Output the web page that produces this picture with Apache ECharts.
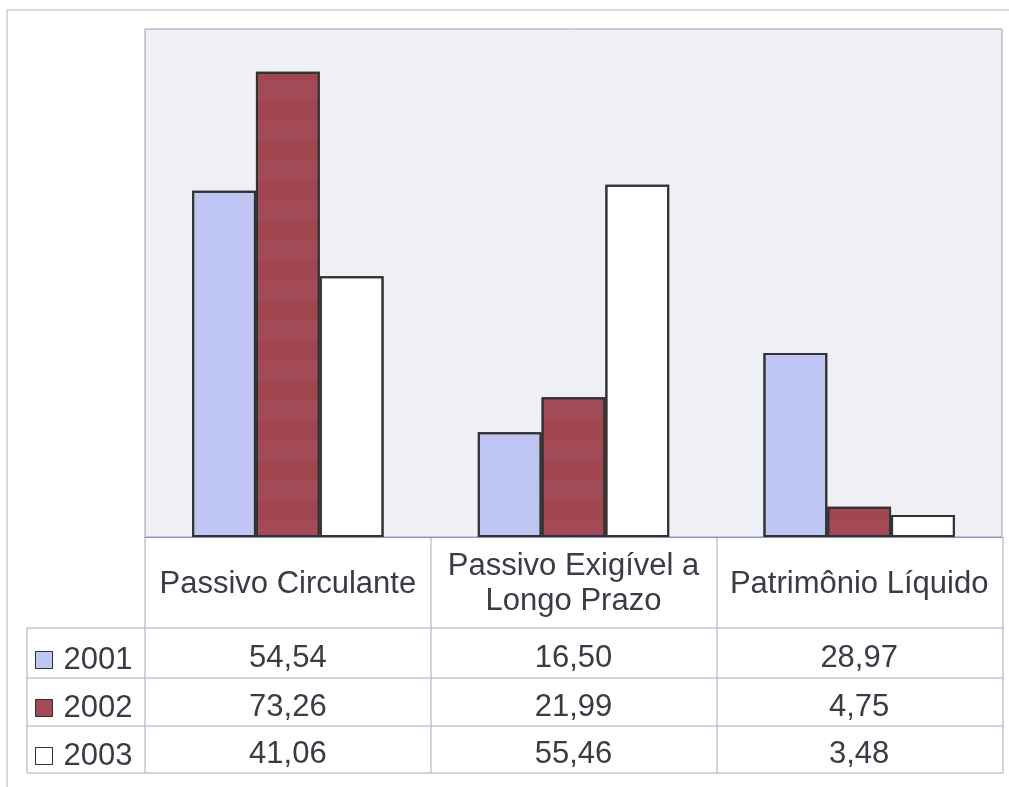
<!DOCTYPE html>
<html>
<head>
<meta charset="utf-8">
<script src="https://cdn.jsdelivr.net/npm/echarts@6/dist/echarts.min.js"></script>
<style>
  html, body { margin: 0; padding: 0; background: #fff; }
  #chart { width: 1009px; height: 787px; }
</style>
</head>
<body>
<div id="chart"></div>
<script>
// dados
const categories = ['Passivo Circulante', 'Passivo Exigível a\nLongo Prazo', 'Patrimônio Líquido']
const years = ['2001', '2002', '2003']
const v2001 = [54.54, 16.50, 28.97]
const v2002 = [73.26, 21.99, 4.75]
const v2003 = [41.06, 55.46, 3.48]

const seriesValues = [v2001, v2002, v2003]
const colors = ['#bfc6f3', '#a0464e', '#ffffff']
const font = 'Liberation Sans, Arial, sans-serif'
const txtColor = '#3a3b45'
const lineColor = '#a3a8c0'

const chart = echarts.init(document.getElementById('chart'))

const fmt = v => v.toFixed(2).replace('.', ',')

const series = years.map((y, i) => ({
  name: y,
  type: 'bar',
  barGap: '0%',
  barCategoryGap: '33%',
  data: seriesValues[i],
  itemStyle: {
    color: colors[i],
    borderColor: '#333',
    borderWidth: 2,
    // listras horizontais da serie 2002
    decal: i === 1 ? {
      symbol: 'rect',
      dashArrayX: [1, 0],
      dashArrayY: [20, 20],
      rotation: 0,
      color: 'rgba(175, 95, 145, 0.15)'
    } : { symbol: 'none' }
  }
}))

chart.setOption({
  animation: false,
  textStyle: { fontFamily: font },
  grid: {
    left: 145, right: 7, top: 29, bottom: 250,
    show: true,
    backgroundColor: '#eef0f5',
    borderColor: '#9a9fb5',
    borderWidth: 1
  },
  legend: {
    orient: 'vertical',
    left: 35,
    top: 636,
    padding: 0,
    itemWidth: 17,
    itemHeight: 17,
    itemGap: 0,
    icon: 'rect',
    itemStyle: { borderWidth: 1, borderColor: '#333' },
    textStyle: { fontSize: 31, lineHeight: 48, color: txtColor, fontFamily: font, padding: [0, 0, 0, 6] },
    data: years
  },
  xAxis: {
    type: 'category',
    data: categories,
    axisLine: { lineStyle: { color: '#8c93b5', width: 1 } },
    axisTick: { show: false },
    axisLabel: {
      interval: 0,
      margin: 47,
      verticalAlign: 'middle',
      fontSize: 31,
      lineHeight: 35,
      color: txtColor,
      fontFamily: font
    }
  },
  yAxis: {
    type: 'value',
    min: 0,
    max: 80,
    show: false,
    splitLine: { show: false }
  },
  series: series
})

// tabela de dados
const left = 145, right = 1003, tableLeft = 27
const rowLines = [628, 678, 726, 773]
const base = 537
const g = []
g.push({ type: 'rect', shape: { x: 7, y: 10, width: 1020, height: 800 }, style: { fill: 'none', stroke: '#b0b5cc', lineWidth: 1 }, silent: true })
rowLines.forEach(y => {
  g.push({ type: 'line', shape: { x1: tableLeft, y1: y, x2: right, y2: y }, style: { stroke: lineColor, lineWidth: 1 } })
})
g.push({ type: 'line', shape: { x1: tableLeft, y1: rowLines[0], x2: tableLeft, y2: rowLines[3] }, style: { stroke: lineColor, lineWidth: 1 } })
const colW = (right - left) / categories.length
for (let c = 0; c <= categories.length; c++) {
  const x = left + c * colW
  g.push({ type: 'line', shape: { x1: x, y1: base, x2: x, y2: rowLines[3] }, style: { stroke: lineColor, lineWidth: 1 } })
}
categories.forEach((cat, ci) => {
  const cx = chart.convertToPixel({ xAxisIndex: 0 }, cat)
  seriesValues.forEach((vals, ri) => {
    g.push({
      type: 'text',
      x: cx,
      y: (rowLines[ri] + rowLines[ri + 1]) / 2 + 5,
      style: {
        text: fmt(vals[ci]),
        fontSize: 31,
        fontFamily: font,
        fill: txtColor,
        align: 'center',
        verticalAlign: 'middle'
      }
    })
  })
})
chart.setOption({ graphic: g })
</script>
</body>
</html>
